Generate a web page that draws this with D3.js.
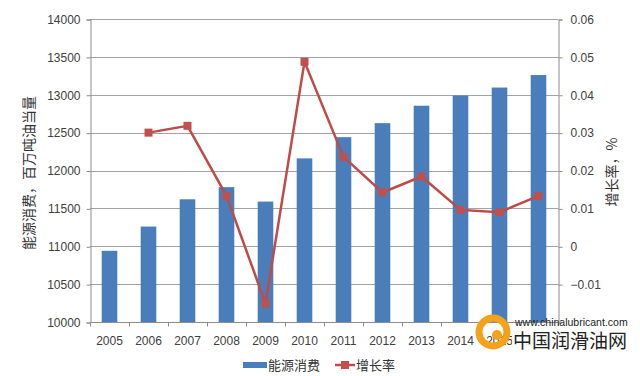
<!DOCTYPE html>
<html>
<head>
<meta charset="utf-8">
<title>能源消费与增长率</title>
<script src="https://d3js.org/d3.v7.min.js"></script>
<style>
  body { margin: 0; background: #fff; }
  text { font-family: "Liberation Sans", Arial, sans-serif; }
  .cjk { font-family: "Noto Sans CJK SC", sans-serif; }
</style>
</head>
<body>
<div id="chart"></div>
<script>
var years = ["2005", "2006", "2007", "2008", "2009", "2010", "2011", "2012", "2013", "2014", "2015", "2016"];
var consumption = [10940, 11260, 11620, 11780, 11590, 12160, 12440, 12625, 12855, 12990, 13095, 13260];
var growth = [null, 0.0300, 0.0318, 0.0133, -0.0151, 0.0487, 0.0236, 0.0142, 0.0184, 0.0096, 0.0090, 0.0133];
var leftTicks = [10000, 10500, 11000, 11500, 12000, 12500, 13000, 13500, 14000];
var rightTicks = [-0.01, 0, 0.01, 0.02, 0.03, 0.04, 0.05, 0.06];

var W = 640, H = 376;
var plot = {left: 90, right: 558, top: 19, bottom: 322};

var svg = d3.select("#chart")
  .append("svg")
    .attr("width", W)
    .attr("height", H);

var x = d3.scaleBand()
  .domain(years)
  .range([plot.left, plot.right])
  .paddingInner(0.6)
  .paddingOuter(0.3);

var y = d3.scaleLinear()
  .domain([10000, 14000])
  .range([plot.bottom, plot.top]);

var y2 = d3.scaleLinear()
  .domain([-0.02, 0.06])
  .range([plot.bottom, plot.top]);

// gridlines
svg.append("g")
  .selectAll("line")
  .data(leftTicks)
  .enter()
  .append("line")
    .attr("x1", plot.left)
    .attr("x2", plot.right)
    .attr("y1", function(d) { return Math.round(y(d)) + 0.5; })
    .attr("y2", function(d) { return Math.round(y(d)) + 0.5; })
    .attr("stroke", "#a3a3a3")
    .attr("stroke-width", 1);

// left axis
var axL = svg.append("g")
  .attr("transform", "translate(" + (plot.left + 0.5) + ",0.5)")
  .call(d3.axisLeft(y).tickValues(leftTicks).tickSize(4).tickPadding(6).tickFormat(d3.format("d")));
axL.select(".domain").attr("stroke", "#8c8c8c");
axL.selectAll(".tick line").attr("stroke", "#8c8c8c");
axL.selectAll("text").attr("font-size", 12).attr("fill", "#404040");

// right axis
var axR = svg.append("g")
  .attr("transform", "translate(" + (plot.right + 0.5) + ",0.5)")
  .call(d3.axisRight(y2).tickValues(rightTicks).tickSize(4).tickPadding(8).tickFormat(function(d) { return d === 0 ? "0" : d3.format(".2f")(d); }));
axR.select(".domain").attr("stroke", "#8c8c8c");
axR.selectAll(".tick line").attr("stroke", "#8c8c8c");
axR.selectAll("text").attr("font-size", 12).attr("fill", "#404040");

// bottom axis: ticks on category boundaries
var bottom = svg.append("g")
  .attr("transform", "translate(0," + (plot.bottom + 0.5) + ")");
bottom.append("line")
  .attr("x1", plot.left).attr("x2", plot.right)
  .attr("stroke", "#8c8c8c");
var step = x.step();
bottom.selectAll(".bt")
  .data(d3.range(years.length + 1))
  .enter()
  .append("line")
    .attr("x1", function(i) { return Math.round(plot.left + i * step) + 0.5; })
    .attr("x2", function(i) { return Math.round(plot.left + i * step) + 0.5; })
    .attr("y1", 0).attr("y2", 4)
    .attr("stroke", "#8c8c8c");
bottom.selectAll(".bl")
  .data(years)
  .enter()
  .append("text")
    .attr("x", function(d) { return x(d) + x.bandwidth() / 2; })
    .attr("y", 22)
    .attr("text-anchor", "middle")
    .attr("font-size", 12)
    .attr("fill", "#404040")
    .text(function(d) { return d; });

// bars
svg.selectAll(".bar")
  .data(consumption)
  .enter()
  .append("rect")
    .attr("x", function(d, i) { return x(years[i]); })
    .attr("y", function(d) { return y(d); })
    .attr("width", x.bandwidth())
    .attr("height", function(d) { return y(10000) - y(d); })
    .attr("fill", "#4a7ebb");

// growth line
var pts = growth.map(function(g, i) { return {year: years[i], v: g}; })
  .filter(function(p) { return p.v !== null; });
var line = d3.line()
  .x(function(p) { return x(p.year) + x.bandwidth() / 2; })
  .y(function(p) { return y2(p.v); });
svg.append("path")
  .datum(pts)
  .attr("d", line)
  .attr("fill", "none")
  .attr("stroke", "#be4b48")
  .attr("stroke-width", 2.5);
svg.selectAll(".mk")
  .data(pts)
  .enter()
  .append("rect")
    .attr("x", function(p) { return x(p.year) + x.bandwidth() / 2 - 4; })
    .attr("y", function(p) { return y2(p.v) - 4; })
    .attr("width", 8)
    .attr("height", 8)
    .attr("fill", "#c0504d");

// axis titles
svg.append("text")
  .attr("class", "cjk")
  .attr("transform", "translate(34,173) rotate(-90)")
  .attr("text-anchor", "middle")
  .attr("font-size", 14)
  .attr("fill", "#333")
  .text("能源消费，百万吨油当量");
svg.append("text")
  .attr("class", "cjk")
  .attr("transform", "translate(617,172) rotate(-90)")
  .attr("text-anchor", "middle")
  .attr("font-size", 14)
  .attr("fill", "#333")
  .text("增长率，%");

// legend
var lg = svg.append("g").attr("transform", "translate(0,365)");
lg.append("rect").attr("x", 243).attr("y", -3).attr("width", 24).attr("height", 6).attr("fill", "#4a7ebb");
lg.append("text").attr("class", "cjk").attr("x", 268).attr("y", 5).attr("font-size", 13).attr("fill", "#333").text("能源消费");
lg.append("line").attr("x1", 335).attr("x2", 355).attr("y1", 0).attr("y2", 0).attr("stroke", "#be4b48").attr("stroke-width", 2.5);
lg.append("rect").attr("x", 341).attr("y", -4).attr("width", 8).attr("height", 8).attr("fill", "#c0504d");
lg.append("text").attr("class", "cjk").attr("x", 356).attr("y", 5).attr("font-size", 13).attr("fill", "#333").text("增长率");

// watermark (covers the last year label, as in the source image)
var wm = svg.append("g");
wm.append("rect").attr("x", 512).attr("y", 326).attr("width", 102).attr("height", 24).attr("fill", "#fff").attr("opacity", 0.9);
wm.append("circle").attr("cx", 493).attr("cy", 332).attr("r", 14).attr("fill", "none").attr("stroke", "#f5a21b").attr("stroke-width", 7);
wm.append("circle").attr("cx", 497).attr("cy", 335).attr("r", 5).attr("fill", "#f5a21b");
wm.append("text").attr("x", 515).attr("y", 326).attr("font-size", 10.5).attr("fill", "#222").text("www.chinalubricant.com");
wm.append("text").attr("class", "cjk").attr("x", 513).attr("y", 348).attr("font-size", 19).attr("fill", "#222").text("中国润滑油网");
</script>
</body>
</html>
